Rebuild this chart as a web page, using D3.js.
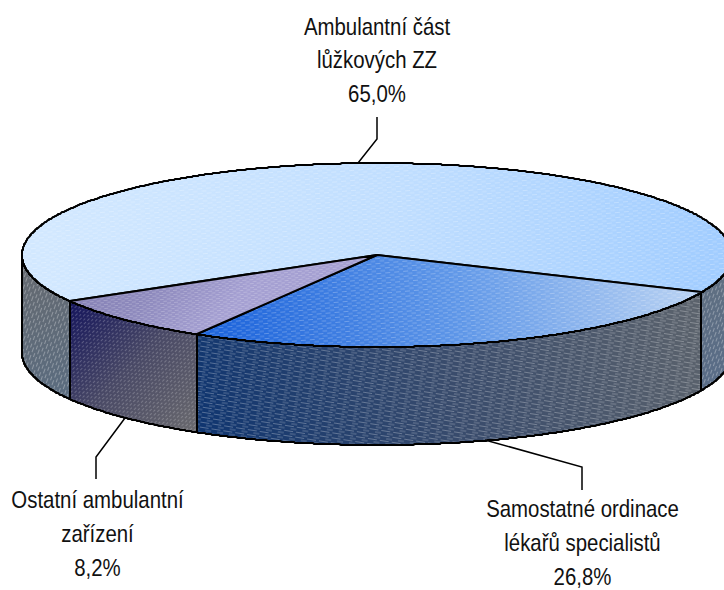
<!DOCTYPE html>
<html>
<head>
<meta charset="utf-8">
<script src="https://cdn.jsdelivr.net/npm/d3@7"></script>
<style>
  html, body { margin: 0; padding: 0; background: #fff; }
  text { font-family: "Liberation Sans", Arial, sans-serif; font-size: 24px; fill: #111; }
</style>
</head>
<body>
<div id="chart"></div>
<script>
const categories = ['Ambulantní část lůžkových ZZ', 'Samostatné ordinace lékařů specialistů', 'Ostatní ambulantní zařízení'];
const shares = [65.0, 26.8, 8.2];
const labelLines = [
  ['Ambulantní část', 'lůžkových ZZ', '65,0%'],
  ['Samostatné ordinace', 'lékařů specialistů', '26,8%'],
  ['Ostatní ambulantní', 'zařízení', '8,2%']
];

const width = 724, height = 590;
const cx = 377, cy = 255, rx = 355, ry = 92, depth = 98;

const svg = d3.select('#chart').append('svg')
  .attr('width', width).attr('height', height)
  .style('display', 'block');
const defs = svg.append('defs');

// Gradients per face: [x1, y1, x2, y2, [colors]]
const gradients = {
  topA: [60, 180, 720, 300, ['#d2e8ff', '#c0deff', '#a0ccff']],
  topS: [230, 345, 680, 250, ['#1f66dc', '#5f97e8', '#b6d0f2']],
  topO: [100, 250, 200, 340, ['#8480b4', '#8e8abd', '#a5a0d2']],
  sideL: [22, 260, 70, 400, ['#666a70', '#5a6c80']],
  sideO: [70, 300, 200, 430, ['#14145c', '#4a4a66', '#6a6a6e']],
  sideS: [200, 440, 700, 290, ['#0f3570', '#3a4c6c', '#5c636c']],
  sideR: [700, 290, 724, 400, ['#5f6f82', '#586c88']]
};
Object.entries(gradients).forEach(([id, g]) => {
  const lg = defs.append('linearGradient').attr('id', 'g-' + id)
    .attr('gradientUnits', 'userSpaceOnUse')
    .attr('x1', g[0]).attr('y1', g[1]).attr('x2', g[2]).attr('y2', g[3]);
  g[4].forEach((c, i) => lg.append('stop')
    .attr('offset', i / (g[4].length - 1)).attr('stop-color', c));
});

// Dashed white hatch laid over each face
function hatch(id, angle, w, h, dash, opacity) {
  const p = defs.append('pattern').attr('id', id)
    .attr('patternUnits', 'userSpaceOnUse')
    .attr('width', w).attr('height', h)
    .attr('patternTransform', `rotate(${angle})`);
  p.append('line').attr('x1', 0).attr('x2', dash).attr('y1', 0.5).attr('y2', 0.5)
    .attr('stroke', '#fff').attr('stroke-opacity', opacity);
  p.append('line').attr('x1', w / 2).attr('x2', w / 2 + dash).attr('y1', h / 2 + 0.5).attr('y2', h / 2 + 0.5)
    .attr('stroke', '#fff').attr('stroke-opacity', opacity);
}
hatch('h-top', -5, 9, 5, 5, 0.25);
hatch('h-topO', -5, 7, 4, 4, 0.22);
hatch('h-sideS', 9, 12, 5, 9, 0.28);
hatch('h-sideO', -45, 5, 6, 3, 0.22);
hatch('h-sideL', -70, 8, 6, 5, 0.3);

const pie = d3.pie().sort(null).value(d => d)
  .startAngle(240 * Math.PI / 180).endAngle(600 * Math.PI / 180);
const arcs = pie(shares);

// pie angle (clockwise from 12 o'clock) to a point on the tilted rim
const rimX = d3.scaleLinear().domain([-1, 1]).range([cx - rx, cx + rx]);
const rimY = d3.scaleLinear().domain([-1, 1]).range([cy - ry, cy + ry]);
const rim = (a, dy = 0) => [
  Math.round(rimX(Math.sin(a))),
  Math.round(rimY(-Math.cos(a))) + dy
];
const line = d3.line();
const steps = (a0, a1) => d3.range(0, 1.0001, 1 / Math.max(2, Math.round(Math.abs(a1 - a0) * 200)))
  .map(t => a0 + (a1 - a0) * t);

function topPath(d) {
  return line([[cx, cy], ...steps(d.startAngle, d.endAngle).map(a => rim(a))]) + 'Z';
}
function sidePath(a0, a1) {
  const s = steps(a0, a1);
  return line([...s.map(a => rim(a)), ...s.slice().reverse().map(a => rim(a, depth))]) + 'Z';
}

const rad = Math.PI / 180;
const A = arcs[0], S = arcs[1], O = arcs[2];
const sides = [
  { a0: 450 * rad, a1: S.startAngle, fill: 'sideR', h: 'h-sideL' },
  { a0: S.startAngle, a1: S.endAngle, fill: 'sideS', h: 'h-sideS' },
  { a0: O.startAngle, a1: O.endAngle, fill: 'sideO', h: 'h-sideO' },
  { a0: A.startAngle, a1: 270 * rad, fill: 'sideL', h: 'h-sideL' }
];
const tops = [
  { d: A, fill: 'topA', h: 'h-top' },
  { d: S, fill: 'topS', h: 'h-top' },
  { d: O, fill: 'topO', h: 'h-topO' }
];

const faces = svg.append('g').attr('stroke-linejoin', 'round');
sides.forEach(s => {
  const p = sidePath(s.a0, s.a1);
  faces.append('path').attr('d', p).attr('fill', `url(#g-${s.fill})`);
  faces.append('path').attr('d', p).attr('fill', `url(#${s.h})`)
    .attr('stroke', '#000').attr('stroke-width', 2);
});
tops.forEach(t => {
  const p = topPath(t.d);
  faces.append('path').attr('d', p).attr('fill', `url(#g-${t.fill})`);
  faces.append('path').attr('d', p).attr('fill', `url(#${t.h})`)
    .attr('stroke', '#000').attr('stroke-width', 2);
});

// Leader lines from labels to their slices
const leaders = [
  [[377, 117], [377, 139], [358, 163]],
  [[582, 490], [582, 467], [485, 440]],
  [[96, 479], [96, 457], [125, 418]]
];
svg.append('g').selectAll('path').data(leaders).join('path')
  .attr('d', d => line(d))
  .attr('fill', 'none').attr('stroke', '#000').attr('stroke-width', 1.5);

// Labels are squeezed horizontally: the original face is tall and narrow
const labelPos = [[377, 34.5], [582.5, 517], [97.5, 508]];
const lineStep = 34;
const labels = svg.append('g').selectAll('g').data(labelLines).join('g')
  .attr('transform', (d, i) => `translate(${labelPos[i][0]},${labelPos[i][1]}) scale(0.85,1)`);
labels.selectAll('text').data(d => d).join('text')
  .attr('text-anchor', 'middle')
  .attr('y', (d, j) => j * lineStep)
  .text(d => d);
</script>
</body>
</html>
